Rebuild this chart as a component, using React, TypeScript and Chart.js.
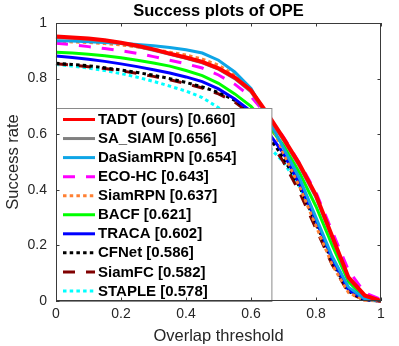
import React, { useEffect, useRef } from "react";
import { Chart, registerables } from "chart.js";

Chart.register(...registerables);

const thresholds = [0, 0.05, 0.1, 0.15, 0.2, 0.25, 0.3, 0.35, 0.4, 0.45, 0.5, 0.55, 0.6, 0.65, 0.7, 0.75, 0.8, 0.85, 0.9, 0.95, 1];

const trackerLabels = [
  "TADT (ours) [0.660]",
  "SA_SIAM [0.656]",
  "DaSiamRPN [0.654]",
  "ECO-HC [0.643]",
  "SiamRPN [0.637]",
  "BACF [0.621]",
  "TRACA [0.602]",
  "CFNet [0.586]",
  "SiamFC [0.582]",
  "STAPLE [0.578]",
];

const tadt = [0.951, 0.948, 0.944, 0.938, 0.929, 0.918, 0.905, 0.89, 0.876, 0.86, 0.837, 0.804, 0.758, 0.675, 0.585, 0.49, 0.38, 0.232, 0.085, 0.02, 0.0];
const saSiam = [0.948, 0.945, 0.941, 0.935, 0.926, 0.915, 0.902, 0.887, 0.873, 0.857, 0.834, 0.8, 0.752, 0.668, 0.578, 0.482, 0.372, 0.226, 0.08, 0.018, 0.0];
const daSiamRpn = [0.936, 0.935, 0.933, 0.93, 0.927, 0.923, 0.918, 0.912, 0.904, 0.892, 0.866, 0.824, 0.765, 0.662, 0.55, 0.44, 0.3, 0.16, 0.05, 0.008, 0];
const ecoHc = [0.927, 0.922, 0.915, 0.908, 0.9, 0.891, 0.879, 0.866, 0.853, 0.838, 0.813, 0.78, 0.735, 0.668, 0.59, 0.495, 0.39, 0.25, 0.11, 0.03, 0.005];
const siamRpn = [0.934, 0.932, 0.93, 0.926, 0.921, 0.914, 0.905, 0.895, 0.885, 0.87, 0.848, 0.812, 0.76, 0.672, 0.53, 0.41, 0.27, 0.13, 0.03, 0.003, 0];
const bacf = [0.895, 0.892, 0.888, 0.882, 0.875, 0.866, 0.856, 0.845, 0.829, 0.811, 0.783, 0.745, 0.7, 0.635, 0.56, 0.46, 0.34, 0.2, 0.07, 0.01, 0];
const traca = [0.881, 0.876, 0.87, 0.862, 0.853, 0.843, 0.832, 0.82, 0.806, 0.789, 0.763, 0.727, 0.682, 0.612, 0.53, 0.42, 0.29, 0.15, 0.04, 0.005, 0];
const cfNet = [0.855, 0.851, 0.846, 0.839, 0.831, 0.822, 0.812, 0.8, 0.786, 0.77, 0.75, 0.722, 0.68, 0.6, 0.515, 0.41, 0.28, 0.14, 0.035, 0.004, 0];
const siamFc = [0.853, 0.849, 0.843, 0.836, 0.828, 0.819, 0.808, 0.796, 0.782, 0.766, 0.745, 0.716, 0.672, 0.59, 0.5, 0.39, 0.26, 0.13, 0.03, 0.003, 0];
const staple = [0.851, 0.845, 0.838, 0.829, 0.818, 0.805, 0.79, 0.773, 0.755, 0.732, 0.695, 0.655, 0.61, 0.56, 0.5, 0.41, 0.29, 0.155, 0.045, 0.006, 0];

const seriesValues = [tadt, saSiam, daSiamRpn, ecoHc, siamRpn, bacf, traca, cfNet, siamFc, staple];
const seriesColors = ["#ff0000", "#808080", "#0ea5e6", "#ff00ff", "#ff8033", "#00ff00", "#0000ff", "#000000", "#800000", "#00ffff"];
const DASH = [12, 11];
const DOT = [3.5, 3.2];
const seriesDash = [[], [], [], DASH, DOT, [], [], DOT, DASH, DOT];
const seriesWidth = [4, 3, 3, 3, 3, 3, 3, 3, 3, 3];

const axisTicks = [0, 0.2, 0.4, 0.6, 0.8, 1];
const chartTitle = "Success plots of OPE";
const xTitle = "Overlap threshold";
const yTitle = "Success rate";

const FONT = "'Liberation Sans', Arial, Helvetica, sans-serif";

const titlePlugin = {
  id: "centeredTitle",
  afterDraw(chart: any) {
    const { ctx, chartArea: a } = chart;
    ctx.save();
    ctx.font = `bold 16.5px ${FONT}`;
    ctx.fillStyle = "#000000";
    ctx.textAlign = "center";
    ctx.textBaseline = "middle";
    ctx.fillText(chartTitle, (a.left + a.right) / 2, 11);
    ctx.restore();
  },
};

const legendPlugin = {
  id: "insideLegend",
  afterDatasetsDraw(chart: any) {
    const { ctx, chartArea: a } = chart;
    ctx.save();
    ctx.font = `bold 15px ${FONT}`;
    const datasets = chart.data.datasets;
    let maxW = 0;
    datasets.forEach((d: any) => {
      maxW = Math.max(maxW, ctx.measureText(d.label).width);
    });
    const rowH = 19.05;
    const boxH = 193;
    const boxX = a.left + 0.5;
    const boxY = a.bottom - boxH + 0.5;
    const boxW = 42 + maxW + 35;
    ctx.fillStyle = "#ffffff";
    ctx.fillRect(boxX, boxY, boxW, boxH);
    ctx.strokeStyle = "#8a8a8a";
    ctx.lineWidth = 1;
    ctx.strokeRect(boxX, boxY, boxW, boxH);
    datasets.forEach((d: any, i: number) => {
      const cy = boxY + 11 + i * rowH;
      ctx.beginPath();
      ctx.setLineDash(d.borderDash || []);
      ctx.strokeStyle = d.borderColor;
      ctx.lineWidth = 3;
      ctx.moveTo(a.left + 7, cy);
      ctx.lineTo(a.left + 39, cy);
      ctx.stroke();
      ctx.setLineDash([]);
      ctx.fillStyle = "#000000";
      ctx.textAlign = "left";
      ctx.textBaseline = "middle";
      ctx.fillText(d.label, a.left + 42, cy + 0.5);
    });
    ctx.restore();
  },
};

const framePlugin = {
  id: "frameTicks",
  afterDraw(chart: any) {
    const { ctx, chartArea: a, scales } = chart;
    ctx.save();
    ctx.strokeStyle = "#3a3a3a";
    ctx.lineWidth = 1;
    ctx.strokeRect(a.left + 0.5, a.top + 0.5, a.right - a.left - 1, a.bottom - a.top - 1);
    const tl = 3.5;
    ctx.beginPath();
    axisTicks.forEach((v) => {
      const x = Math.round(scales.x.getPixelForValue(v)) + 0.5;
      ctx.moveTo(x, a.bottom);
      ctx.lineTo(x, a.bottom - tl);
      ctx.moveTo(x, a.top);
      ctx.lineTo(x, a.top + tl);
      const y = Math.round(scales.y.getPixelForValue(v)) + 0.5;
      ctx.moveTo(a.left, y);
      ctx.lineTo(a.left + tl, y);
      ctx.moveTo(a.right, y);
      ctx.lineTo(a.right - tl, y);
    });
    ctx.stroke();
    ctx.restore();
  },
};

const fmt = (v: any) => String(Math.round(Number(v) * 10) / 10);

export default function App() {
  const canvasRef = useRef<HTMLCanvasElement | null>(null);

  useEffect(() => {
    document.body.style.margin = "0";
    const canvas = canvasRef.current;
    if (!canvas) return;
    const datasets = trackerLabels.map((label, i) => ({
      label,
      data: thresholds.map((t, j) => ({ x: t, y: seriesValues[i][j] })),
      borderColor: seriesColors[i],
      backgroundColor: seriesColors[i],
      borderWidth: seriesWidth[i],
      borderDash: seriesDash[i],
      pointRadius: 0,
      tension: 0,
      fill: false,
      clip: false as any,
    }));
    const chart = new Chart(canvas, {
      type: "line",
      data: { datasets },
      options: {
        animation: false,
        responsive: false,
        maintainAspectRatio: false,
        layout: { padding: { top: 23, right: 18, left: 0, bottom: 0 } },
        plugins: {
          legend: { display: false },
          title: { display: false },
          tooltip: { enabled: false },
        },
        scales: {
          x: {
            type: "linear",
            min: 0,
            max: 1,
            afterFit: (s: any) => {
              s.height = 45;
            },
            afterBuildTicks: (s: any) => {
              s.ticks = axisTicks.map((v) => ({ value: v }));
            },
            grid: { display: false, drawTicks: false },
            border: { display: false },
            ticks: {
              padding: 5,
              maxRotation: 0,
              color: "#262626",
              font: { family: FONT, size: 14 },
              callback: fmt,
            },
            title: {
              display: true,
              text: xTitle,
              color: "#262626",
              font: { family: FONT, size: 16.5 },
              padding: { top: 0, bottom: 0 },
            },
          },
          y: {
            type: "linear",
            min: 0,
            max: 1,
            afterFit: (s: any) => {
              s.width = 56;
            },
            afterBuildTicks: (s: any) => {
              s.ticks = axisTicks.map((v) => ({ value: v }));
            },
            grid: { display: false, drawTicks: false },
            border: { display: false },
            ticks: {
              padding: 9,
              color: "#262626",
              font: { family: FONT, size: 14 },
              callback: fmt,
            },
            title: {
              display: true,
              text: yTitle,
              color: "#262626",
              font: { family: FONT, size: 16.5 },
              padding: { top: 4, bottom: 0 },
            },
          },
        },
      },
      plugins: [legendPlugin, framePlugin, titlePlugin],
    });
    return () => chart.destroy();
  }, []);

  return (
    <div style={{ width: 399, height: 346 }}>
      <canvas ref={canvasRef} width={399} height={346} style={{ display: "block" }} />
    </div>
  );
}
